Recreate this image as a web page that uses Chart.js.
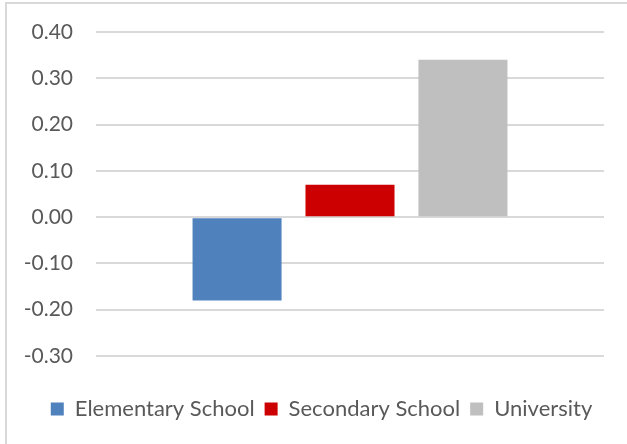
<!DOCTYPE html>
<html>
<head>
<meta charset="utf-8">
<script src="https://cdn.jsdelivr.net/npm/chart.js@4/dist/chart.umd.min.js"></script>
<style>
  body { margin: 0; background: #fff; }
  #frame {
    position: absolute; left: 5px; top: 2px; width: 622px; height: 442px;
    border-left: 2px solid #d9d9d9; border-top: 2px solid #d9d9d9;
  }
  #wrap { width: 620px; height: 440px; }
</style>
</head>
<body>
<div id="frame"><div id="wrap"><canvas id="chart"></canvas></div></div>
<script>
// DATA
const categories = [''];
const seriesNames = ['Elementary School', 'Secondary School', 'University'];
const seriesValues = [[-0.18], [0.07], [0.34]];
const seriesColors = ['#4f81bd', '#cc0000', '#bfbfbf'];
const tickValues = [-0.3, -0.2, -0.1, 0, 0.1, 0.2, 0.3, 0.4];

const FONT = 'Lato, "Open Sans", sans-serif';

// nudge legend right so it is centred on the whole frame
const legendShift = {
  id: 'legendShift',
  afterLayout(chart) {
    chart.legend.left += 16;
    chart.legend.right += 16;
  }
};

const ctx = document.getElementById('chart').getContext('2d');
const chart = new Chart(ctx, {
  type: 'bar',
  data: {
    labels: categories,
    datasets: seriesNames.map((name, i) => ({
      label: name,
      data: seriesValues[i],
      backgroundColor: seriesColors[i],
      borderWidth: 0,
      categoryPercentage: 0.667,
      barPercentage: 0.788
    }))
  },
  options: {
    responsive: true,
    maintainAspectRatio: false,
    animation: false,
    layout: { padding: { left: 0, right: 23, top: 28, bottom: 14 } },
    plugins: {
      tooltip: { enabled: false },
      legend: {
        position: 'bottom',
        labels: {
          boxWidth: 13, boxHeight: 13, padding: 10,
          color: '#595959',
          font: { family: FONT, size: 22 }
        }
      }
    },
    scales: {
      x: {
        grid: { display: false },
        border: { display: false },
        ticks: { display: false },
        afterFit: s => { s.height = 32; }
      },
      y: {
        min: -0.3, max: 0.4,
        afterBuildTicks: s => { s.ticks = tickValues.map(v => ({ value: v })); },
        afterFit: s => { s.width = 89; s.paddingTop = 0; s.paddingBottom = 0; },
        grid: { color: '#d9d9d9', lineWidth: 2, drawTicks: false },
        border: { display: false },
        ticks: {
          padding: 23,
          color: '#595959',
          font: { family: FONT, size: 21 },
          callback: v => (Math.abs(v) < 1e-9 ? 0 : v).toFixed(2)
        }
      }
    }
  },
  plugins: [legendShift]
});
</script>
</body>
</html>
